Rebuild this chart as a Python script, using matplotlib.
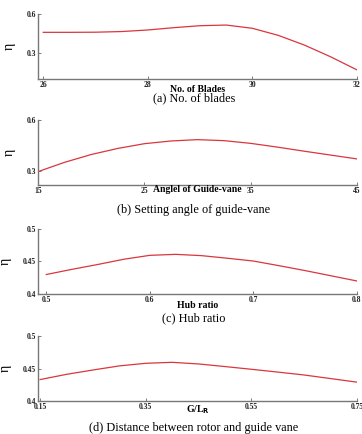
import numpy as np
import matplotlib
matplotlib.use('Agg')
import matplotlib.pyplot as plt

plt.rcParams['font.family'] = ['Liberation Serif', 'DejaVu Serif']

# (a) number of blades
blades = [26, 26.5, 27, 27.5, 28, 28.5, 29, 29.5, 30, 30.5, 31, 31.5, 32]
eta_blades = [0.459, 0.459, 0.46, 0.465, 0.477, 0.495, 0.51, 0.515, 0.49, 0.435, 0.36, 0.27, 0.17]

# (b) setting angle of guide-vane
angle = [15, 17.5, 20, 22.5, 25, 27.5, 30, 32.5, 35, 37.5, 40, 42.5, 45]
eta_angle = [0.295, 0.35, 0.396, 0.432, 0.46, 0.476, 0.484, 0.478, 0.462, 0.44, 0.416, 0.393, 0.37]

# (c) hub ratio
hub = [0.5, 0.525, 0.55, 0.575, 0.6, 0.625, 0.65, 0.675, 0.7, 0.725, 0.75, 0.775, 0.8]
eta_hub = [0.43, 0.438, 0.4455, 0.4535, 0.4595, 0.461, 0.459, 0.455, 0.4507, 0.4435, 0.436, 0.428, 0.42]

# (d) gap between rotor and guide vane
gap = [0.15, 0.2, 0.25, 0.3, 0.35, 0.4, 0.45, 0.5, 0.55, 0.6, 0.65, 0.7, 0.75]
eta_gap = [0.433, 0.441, 0.4477, 0.454, 0.458, 0.4595, 0.457, 0.453, 0.4488, 0.4445, 0.44, 0.4345, 0.429]

# bot = axis bottom (px), xly = x label y (px), ty = caption y (px)
panels = [
    (blades, eta_blades, [26, 28, 30, 32], ['26', '28', '30', '32'], (25.9, 32),
     [0.3, 0.6], ['0.3', '0.6'], (0.1, 0.6), 'No. of Blades', '(a) No. of blades', 79, 89, 98),
    (angle, eta_angle, [15, 25, 35, 45], ['15', '25', '35', '45'], (15, 45),
     [0.3, 0.6], ['0.3', '0.6'], (0.216, 0.6), 'Anglel of Guide-vane', '(b) Setting angle of guide-vane', 185, 189, 210),
    (hub, eta_hub, [0.5, 0.6, 0.7, 0.8], ['0.5', '0.6', '0.7', '0.8'], (0.492, 0.8),
     [0.4, 0.45, 0.5], ['0.4', '0.45', '0.5'], (0.4, 0.5), 'Hub ratio', '(c) Hub ratio', 294, 305, 318),
    (gap, eta_gap, [0.15, 0.35, 0.55, 0.75], ['0.15', '0.35', '0.55', '0.75'], (0.146, 0.75),
     [0.4, 0.45, 0.5], ['0.4', '0.45', '0.5'], (0.4, 0.5), r'G/L$_\mathbf{R}$', '(d) Distance between rotor and guide vane', 401, 410, 428),
]

W, H = 362, 434
fig = plt.figure(figsize=(W / 100, H / 100), dpi=100)

for x, y, xt, xtl, xl, yt, ytl, yl, xlab, title, bot, xly, ty in panels:
    ax = fig.add_axes([38 / W, 1 - bot / H, 319 / W, 65 / H])
    ax.plot(x, y, color='#d9363e', lw=0.9)
    ax.set_xlim(*xl)
    ax.set_ylim(*yl)
    ax.set_xticks(xt)
    ax.set_xticklabels(xtl, fontsize=5.5, fontweight='bold')
    ax.set_yticks(yt)
    ax.set_yticklabels(ytl, fontsize=5.5, fontweight='bold')
    ax.tick_params(direction='in', length=2, width=0.6, colors='#666666', labelcolor='#222222', pad=1.5)
    for s in ['top', 'right']:
        ax.spines[s].set_visible(False)
    for s in ['left', 'bottom']:
        ax.spines[s].set_color('#777777')
        ax.spines[s].set_linewidth(1.0)
    ax.set_ylabel('η', fontsize=10, labelpad=8)
    fig.text(197.5 / W, 1 - xly / H, xlab, ha='center', va='center', fontsize=7, fontweight='bold')
    fig.text(194 / W, 1 - ty / H, title, ha='center', va='center', fontsize=8.8)

fig.savefig('out.png', dpi=100)
